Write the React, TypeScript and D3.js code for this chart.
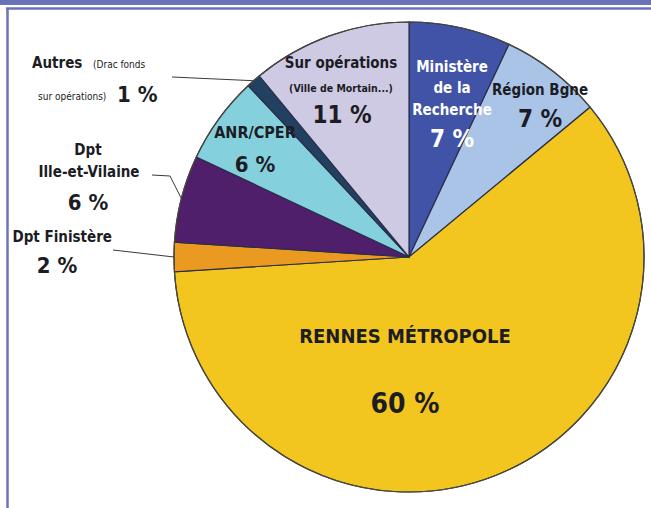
import React from 'react'
import * as d3 from 'd3'

// parts of the budget, clockwise from 12 o'clock
const sources = [
  'Ministère de la Recherche',
  'Région Bgne',
  'Rennes Métropole',
  'Dpt Finistère',
  'Dpt Ille-et-Vilaine',
  'ANR/CPER',
  'Autres',
  'Sur opérations',
]
const shares = [7, 7, 60, 2, 6, 6, 1, 11]
const colors = ['#4153a7', '#a9c4e7', '#f3c51f', '#ea9a20', '#4f1f6c', '#84d0dc', '#22405f', '#cfcae3']

const W = 651
const H = 508
const cx = 409
const cy = 257
const R = 235

const font = "'DejaVu Sans Condensed', 'DejaVu Sans', sans-serif"
const ink = '#1c1c24'

const pct = (i: number) => `${shares[i]} %`

export default function App() {
  const pie = d3
    .pie<number>()
    .value((d) => d)
    .sort(null)
    .startAngle(0)
    .endAngle(2 * Math.PI)
  const arcs = pie(shares)
  const arc = d3.arc<d3.PieArcDatum<number>>().innerRadius(0).outerRadius(R)

  // point on the rim in the middle of slice i
  const rim = (i: number, k = 1) => {
    const a = (arcs[i].startAngle + arcs[i].endAngle) / 2
    return [cx + Math.sin(a) * R * k, cy - Math.cos(a) * R * k]
  }

  const line = d3.line()

  const t = (
    x: number,
    y: number,
    s: string,
    size: number,
    opts: { anchor?: string; fill?: string; weight?: string } = {}
  ) => (
    <text
      key={s + x + y}
      x={x}
      y={y}
      fontSize={size}
      fontFamily={font}
      fontWeight={opts.weight || 'bold'}
      textAnchor={opts.anchor || 'middle'}
      fill={opts.fill || ink}
    >
      {s}
    </text>
  )

  return (
    <svg
      width={W}
      height={H}
      style={{ position: 'absolute', left: 0, top: 0, background: '#fff' }}
    >
      <g transform={`translate(${cx},${cy})`}>
        {arcs.map((d, i) => (
          <path key={sources[i]} d={arc(d) || ''} fill={colors[i]} stroke="#2a2d48" strokeWidth={1.2} />
        ))}
        <circle r={R} fill="none" stroke="#4a4a3a" strokeWidth={1.2} />
      </g>

      {/* leader lines */}
      <g fill="none" stroke="#3a3a3a" strokeWidth={1}>
        <path d={line([[172, 77], [rim(6)[0], rim(6)[1]]] as [number, number][]) || ''} />
        <path d={line([[152, 175], [170, 176], [rim(4)[0], rim(4)[1]]] as [number, number][]) || ''} />
        <path d={line([[113, 250], [rim(3)[0], rim(3)[1]]] as [number, number][]) || ''} />
      </g>

      {/* inside labels */}
      {t(452, 72, 'Ministère', 15, { fill: '#fff' })}
      {t(452, 93, 'de la', 15, { fill: '#fff' })}
      {t(452, 115, 'Recherche', 15, { fill: '#fff' })}
      {t(452, 147, pct(0), 24, { fill: '#fff' })}

      {t(540, 95, 'Région Bgne', 15)}
      {t(540, 127, pct(1), 24)}

      {t(405, 343, 'RENNES MÉTROPOLE', 20)}
      {t(405, 413, pct(2), 28)}

      {t(255, 138, 'ANR/CPER', 16)}
      {t(255, 172, pct(5), 22)}

      {t(341, 68, 'Sur opérations', 15)}
      {t(341, 92, '(Ville de Mortain...)', 10.5)}
      {t(342, 123, pct(7), 24)}

      {/* outside labels */}
      {t(32, 68, 'Autres', 15, { anchor: 'start' })}
      {t(93, 68, '(Drac fonds', 10, { anchor: 'start', weight: 'normal' })}
      {t(38, 100, 'sur opérations)', 10, { anchor: 'start', weight: 'normal' })}
      {t(117, 102, pct(6), 22, { anchor: 'start' })}

      {t(88, 155, 'Dpt', 15)}
      {t(89, 177, 'Ille-et-Vilaine', 15)}
      {t(88, 210, pct(4), 22)}

      {t(112, 242, 'Dpt Finistère', 15, { anchor: 'end' })}
      {t(57, 273, pct(3), 22)}

      {/* frame */}
      <rect x={0} y={0} width={W} height={5} fill="#6a73b8" />
      <line x1={6} x2={W} y1={8.5} y2={8.5} stroke="#6a73b8" strokeWidth={2.5} />
      <line x1={7.5} x2={7.5} y1={8} y2={H} stroke="#6a73b8" strokeWidth={2.5} />
    </svg>
  )
}
